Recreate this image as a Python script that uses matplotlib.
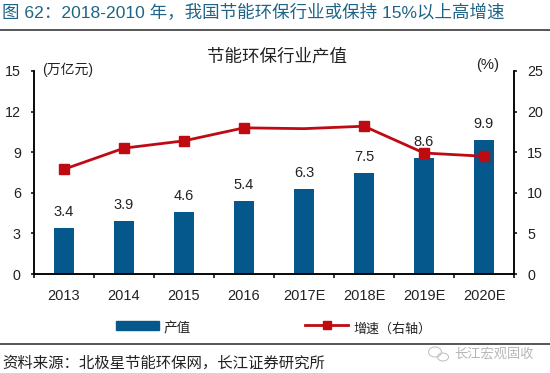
import matplotlib
matplotlib.use('Agg')
import matplotlib.pyplot as plt
from matplotlib.lines import Line2D
from matplotlib.patches import Ellipse, Rectangle

plt.rcParams['font.family'] = ['Liberation Sans', 'Noto Sans CJK SC', 'DejaVu Sans']

years = ['2013', '2014', '2015', '2016', '2017E', '2018E', '2019E', '2020E']
output = [3.4, 3.9, 4.6, 5.4, 6.3, 7.5, 8.6, 9.9]
growth = [12.9, 15.5, 16.4, 18.0, 17.9, 18.2, 14.9, 14.5]
left_ticks = [0, 3, 6, 9, 12, 15]
right_ticks = [0, 5, 10, 15, 20, 25]

BLUE = '#04588c'
RED = '#c00a12'
TEXT = '#222222'
W, H = 550, 373


def fx(px):
    return px / W


def fy(px):
    return 1 - px / H


fig = plt.figure(figsize=(W / 100, H / 100), dpi=100)
ax = fig.add_axes([fx(34), fy(274), 480 / W, 203 / H])
ax2 = ax.twinx()

xs = list(range(len(years)))
ax.bar(xs, output, width=0.34, color=BLUE)
ax.set_xlim(-0.5, 7.5)
ax.set_ylim(0, 15)
ax.set_yticks(left_ticks)
# ticks sit between the categories, labels in the middle
ax.set_xticks([x - 0.5 for x in xs] + [7.5])
ax.set_xticklabels([])
ax.set_xticks(xs, years, minor=True)
ax.tick_params(axis='x', which='major', direction='out', length=3, width=1.1)
ax.tick_params(axis='x', which='minor', length=0, pad=11, labelsize=10.5, labelcolor=TEXT)
ax.tick_params(axis='y', direction='out', length=2.5, width=1.1, labelsize=10.3, pad=7, labelcolor=TEXT)

ax2.plot(xs, growth, color=RED, lw=2, zorder=4)
# no marker on 2017E in the source
ax2.plot(xs, growth, ls='none', color=RED, marker='s', ms=7, markevery=[0, 1, 2, 3, 5, 6, 7], zorder=4)
ax2.set_ylim(0, 25)
ax2.set_yticks(right_ticks)
ax2.tick_params(axis='y', direction='out', length=2.5, width=1.1, labelsize=10.3, pad=7, labelcolor=TEXT)

for x, v in zip(xs, output):
    ax2.annotate(f'{v}', (x, v * 25 / 15), xytext=(0, 11.5), textcoords='offset points',
                 ha='center', va='center', fontsize=10.5, color=TEXT, zorder=5)

for a in (ax, ax2):
    a.spines['top'].set_visible(False)
    for s in ('left', 'right', 'bottom'):
        a.spines[s].set_linewidth(1.1)

# header
fig.text(fx(2), fy(12), '图 62：2018-2010 年，我国节能环保行业或保持 15%以上高增速',
         color='#1f6487', fontsize=12.6, va='center')
fig.add_artist(Line2D([0, 1], [fy(30)] * 2, color='#555555', lw=1.4))
fig.text(fx(277), fy(56), '节能环保行业产值', fontsize=12.6, ha='center', va='center', color=TEXT)
fig.text(fx(42), fy(70), '(万亿元)', fontsize=10, va='center', color=TEXT)
fig.text(fx(488), fy(65), '(%)', fontsize=10.6, ha='center', va='center', color=TEXT)

# legend
fig.add_artist(Rectangle((fx(116), fy(330)), 43 / W, 9 / H, transform=fig.transFigure, color=BLUE))
fig.text(fx(164), fy(329), '产值', fontsize=9.8, va='center', color=TEXT)
fig.add_artist(Line2D([fx(305), fx(348)], [fy(325)] * 2, color=RED, lw=2))
fig.add_artist(Line2D([fx(326.5)], [fy(325)], color=RED, marker='s', ms=6, ls='none'))
fig.text(fx(353), fy(329), '增速（右轴）', fontsize=9.4, va='center', color=TEXT)

# footer
fig.add_artist(Line2D([0, 1], [fy(344)] * 2, color='#555555', lw=1.4))
fig.text(fx(2), fy(363), '资料来源：北极星节能环保网，长江证券研究所', fontsize=11.1, va='center', color=TEXT)
fig.text(fx(454), fy(354), '长江宏观固收', fontsize=9.5, va='center', color='#b5b5b5')
fig.add_artist(Ellipse((fx(435), fy(352)), 13 / W, 10 / H, transform=fig.transFigure, fill=False, ec='#c4c4c4', lw=0.8))
fig.add_artist(Ellipse((fx(443), fy(357)), 11 / W, 8 / H, transform=fig.transFigure, fill=False, ec='#c4c4c4', lw=0.8))

fig.savefig('out.png', dpi=100)
